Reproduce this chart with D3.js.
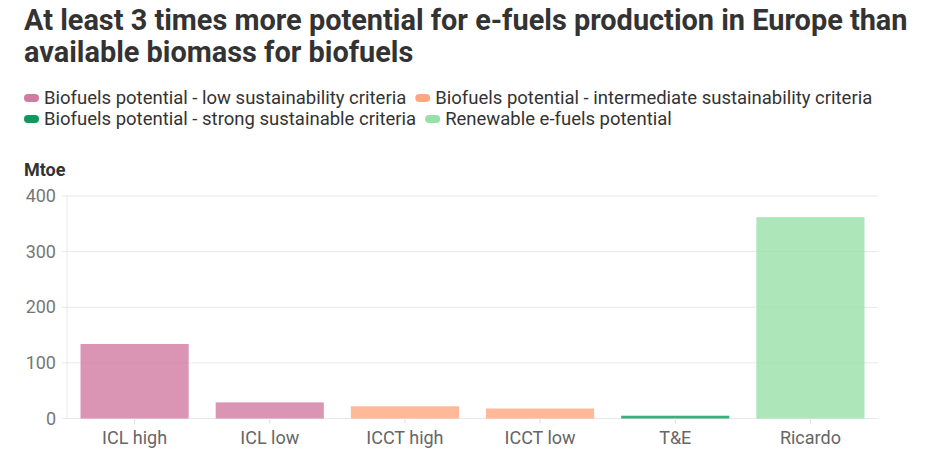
<!DOCTYPE html>
<html>
<head>
<meta charset="utf-8">
<script src="https://cdn.jsdelivr.net/npm/d3@7"></script>
<style>
  body { margin: 0; background: #fff; font-family: Roboto, "Noto Sans", sans-serif; }
  svg { display: block; }
</style>
</head>
<body>
<svg id="chart" width="940" height="463"></svg>
<script>
const titleLines = [
    "At least 3 times more potential for e-fuels production in Europe than",
    "available biomass for biofuels"
];
const categories = ["ICL high", "ICL low", "ICCT high", "ICCT low", "T&E", "Ricardo"];
const values = [134, 29, 22, 18, 5, 362];
const seriesOf = [0, 0, 1, 1, 2, 3];
const seriesNames = [
    "Biofuels potential - low sustainability criteria",
    "Biofuels potential - intermediate sustainability criteria",
    "Biofuels potential - strong sustainable criteria",
    "Renewable e-fuels potential"
];
const seriesColors = ["#d17ba3", "#ffa880", "#0a9a5c", "#98e0a8"];
const yTicks = [0, 100, 200, 300, 400];

const svg = d3.select("#chart");
const margin = { left: 67, right: 878, top: 196, bottom: 418.5 };

// title
svg.append("g")
    .selectAll("text")
    .data(titleLines)
    .join("text")
    .attr("x", 24)
    .attr("y", (d, i) => 30 + i * 32)
    .text(d => d)
    .style("font-size", "28.9px")
    .style("font-weight", "700")
    .style("fill", "#333");

// legend: two rows
const legendRows = [[0, 1], [2, 3]];
legendRows.forEach((row, r) => {
    let x = 24;
    row.forEach(i => {
        const g = svg.append("g").attr("transform", `translate(${x},${104 + r * 21})`);
        g.append("rect")
            .attr("x", 0).attr("y", -10)
            .attr("width", 15).attr("height", 8)
            .attr("rx", 4)
            .attr("fill", seriesColors[i]);
        const t = g.append("text")
            .attr("x", 20)
            .text(seriesNames[i])
            .style("font-size", "18.5px")
            .style("fill", "#333");
        x += 20 + t.node().getComputedTextLength() + 9;
    });
});

// axis title
svg.append("text")
    .attr("x", 24)
    .attr("y", 176)
    .text("Mtoe")
    .style("font-size", "18px")
    .style("font-weight", "700")
    .style("fill", "#333");

const x = d3.scaleBand()
    .domain(categories)
    .range([margin.left, margin.right])
    .paddingInner(0.2)
    .paddingOuter(0.1);

const y = d3.scaleLinear()
    .domain([0, 400])
    .range([margin.bottom, margin.top]);

// grid
svg.append("g")
    .selectAll("line")
    .data(yTicks)
    .join("line")
    .attr("x1", margin.left - 5)
    .attr("x2", margin.right)
    .attr("y1", d => y(d))
    .attr("y2", d => y(d))
    .attr("stroke", "#e8e8e8")
    .attr("stroke-width", 1);

svg.append("line")
    .attr("x1", margin.left).attr("x2", margin.left)
    .attr("y1", margin.top).attr("y2", margin.bottom)
    .attr("stroke", "#e8e8e8");

// y tick labels
svg.append("g")
    .selectAll("text")
    .data(yTicks)
    .join("text")
    .attr("x", 56)
    .attr("y", d => y(d) + 6)
    .attr("text-anchor", "end")
    .text(d => d)
    .style("font-size", "18px")
    .style("fill", "#777");

// bars
svg.append("g")
    .selectAll("rect")
    .data(categories)
    .join("rect")
    .attr("x", d => x(d))
    .attr("width", x.bandwidth())
    .attr("y", (d, i) => y(values[i]))
    .attr("height", (d, i) => y(0) - y(values[i]))
    .attr("fill", (d, i) => seriesColors[seriesOf[i]])
    .attr("fill-opacity", 0.8);

// x axis
const xAxis = svg.append("g")
    .attr("transform", `translate(0,${margin.bottom})`)
    .call(d3.axisBottom(x).tickSize(5).tickPadding(8));
xAxis.select(".domain").remove();
xAxis.selectAll(".tick line").attr("stroke", "#e0e0e0");
xAxis.selectAll(".tick text")
    .style("font-size", "18px")
    .style("font-family", "Roboto, sans-serif")
    .style("fill", "#666");
</script>
</body>
</html>
